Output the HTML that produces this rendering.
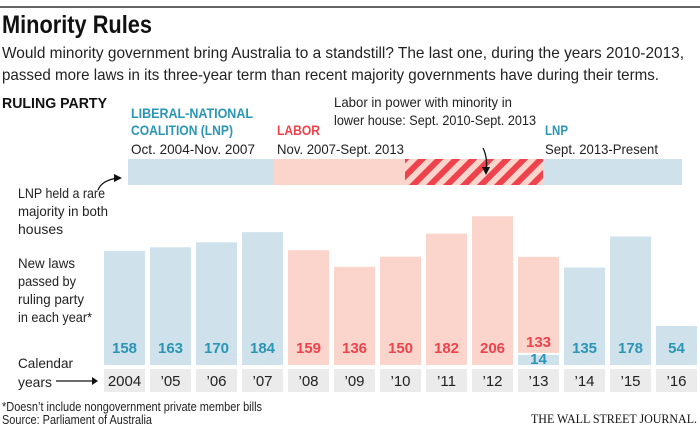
<!DOCTYPE html>
<html><head><meta charset="utf-8"><style>
body{margin:0;background:#fff;width:700px;height:429px;overflow:hidden;font-family:"Liberation Sans",sans-serif;}
svg text{font-family:"Liberation Sans",sans-serif;}
</style></head><body>
<svg width="700" height="429" viewBox="0 0 700 429">
<defs><pattern id="hatch" width="12" height="12" patternUnits="userSpaceOnUse" patternTransform="rotate(45)">
<rect width="12" height="12" fill="#fbd5cc"/><rect width="6" height="12" fill="#ee434d"/></pattern></defs>
<line x1="0" y1="7" x2="700" y2="7" stroke="#333" stroke-width="1.5"/>
<text x="2" y="33" font-size="25" font-weight="bold" fill="#111" textLength="150" lengthAdjust="spacingAndGlyphs">Minority Rules</text>
<text x="2" y="58" font-size="16" fill="#222" textLength="682" lengthAdjust="spacingAndGlyphs">Would minority government bring Australia to a standstill? The last one, during the years 2010-2013,</text>
<text x="2" y="80" font-size="16" fill="#222" textLength="657" lengthAdjust="spacingAndGlyphs">passed more laws in its three-year term than recent majority governments have during their terms.</text>
<text x="2" y="108" font-size="15" font-weight="bold" fill="#111" textLength="105" lengthAdjust="spacingAndGlyphs">RULING PARTY</text>
<g font-size="14">
<text x="131" y="118" font-weight="bold" fill="#2a95b5" textLength="122" lengthAdjust="spacingAndGlyphs">LIBERAL-NATIONAL</text>
<text x="131" y="135" font-weight="bold" fill="#2a95b5" textLength="102" lengthAdjust="spacingAndGlyphs">COALITION (LNP)</text>
<text x="131" y="154" fill="#222" textLength="124" lengthAdjust="spacingAndGlyphs">Oct. 2004-Nov. 2007</text>
<text x="277" y="135" font-weight="bold" fill="#ee434d" textLength="43" lengthAdjust="spacingAndGlyphs">LABOR</text>
<text x="277" y="154" fill="#222" textLength="127" lengthAdjust="spacingAndGlyphs">Nov. 2007-Sept. 2013</text>
<text x="334" y="107" fill="#222" textLength="178" lengthAdjust="spacingAndGlyphs">Labor in power with minority in</text>
<text x="334" y="125" fill="#222" textLength="202" lengthAdjust="spacingAndGlyphs">lower house: Sept. 2010-Sept. 2013</text>
<text x="545" y="135" font-weight="bold" fill="#2a95b5" textLength="23" lengthAdjust="spacingAndGlyphs">LNP</text>
<text x="545" y="154" fill="#222" textLength="113" lengthAdjust="spacingAndGlyphs">Sept. 2013-Present</text>
<text x="18" y="198" fill="#222" textLength="87" lengthAdjust="spacingAndGlyphs">LNP held a rare</text>
<text x="18" y="216" fill="#222" textLength="90" lengthAdjust="spacingAndGlyphs">majority in both</text>
<text x="18" y="234" fill="#222">houses</text>
<text x="18" y="268" fill="#222" textLength="57" lengthAdjust="spacingAndGlyphs">New laws</text>
<text x="18" y="286" fill="#222" textLength="58" lengthAdjust="spacingAndGlyphs">passed by</text>
<text x="18" y="304" fill="#222" textLength="66" lengthAdjust="spacingAndGlyphs">ruling party</text>
<text x="18" y="322" fill="#222" textLength="74" lengthAdjust="spacingAndGlyphs">in each year*</text>
<text x="18" y="368" fill="#222" textLength="55" lengthAdjust="spacingAndGlyphs">Calendar</text>
<text x="18" y="387" fill="#222" textLength="34" lengthAdjust="spacingAndGlyphs">years</text>
</g>
<path d="M98 190 Q 102 180 118 178" fill="none" stroke="#111" stroke-width="1.2"/>
<path d="M114 174 L122 178 L114 182 Z" fill="#111"/>
<line x1="56" y1="381" x2="96" y2="381" stroke="#111" stroke-width="1.2"/>
<path d="M92 377 L98 381 L92 385 Z" fill="#111"/>
<rect x="128" y="159" width="145" height="26" fill="#cfe2ec"/>
<rect x="273" y="159" width="132" height="26" fill="#fbd5cc"/>
<rect x="405" y="159" width="138" height="26" fill="url(#hatch)"/>
<rect x="543" y="159" width="139" height="26" fill="#cfe2ec"/>
<path d="M483 148 Q 488 158 486 172" fill="none" stroke="#111" stroke-width="1.3"/>
<path d="M482 167 L486 175 L490 167 Z" fill="#111"/>
<g id="bars"></g>
<text x="2" y="411" font-size="13" fill="#222" textLength="260" lengthAdjust="spacingAndGlyphs">*Doesn’t include nongovernment private member bills</text>
<text x="2" y="424" font-size="13" fill="#222" textLength="150" lengthAdjust="spacingAndGlyphs">Source: Parliament of Australia</text>
<text x="531" y="423" font-size="13" fill="#111" textLength="166" lengthAdjust="spacingAndGlyphs" style="font-family:'Liberation Serif',serif">THE WALL STREET JOURNAL.</text>
</svg>
<script>
const years=["2004","’05","’06","’07","’08","’09","’10","’11","’12","’13","’14","’15","’16"];
const lnpValues=[158,163,170,184,0,0,0,0,0,14,135,178,54];
const laborValues=[0,0,0,0,159,136,150,182,206,133,0,0,0];
const NS="http://www.w3.org/2000/svg";
const g=document.getElementById('bars');
const base=365,k=0.722,x0=104,pitch=46,bw=41;
const xs=i=>x0+i*pitch, hs=v=>v*k;
function mk(tag,attrs){const e=document.createElementNS(NS,tag);for(const a in attrs)e.setAttribute(a,attrs[a]);g.appendChild(e);return e;}
years.forEach((y,i)=>{
  const x=xs(i);const l=lnpValues[i],b=laborValues[i];
  if(l>0){const r=mk('rect',{x:x,y:base-hs(l),width:bw,height:hs(l),fill:'#cfe2ec'});
    
    }
  if(b>0){const yb=base-hs(l)-(l>0?2:0);const r=mk('rect',{x:x,y:yb-hs(b),width:bw,height:hs(b),fill:'#fbd5cc'});
    
    }
  if(b>0){const t=mk('text',{x:x+bw/2,y:l>0?base-hs(l)-8:353,'text-anchor':'middle','font-size':15,'font-weight':'bold',fill:'#ee434d'});t.textContent=b;
    
    }
  if(l>0){const t=mk('text',{x:x+bw/2,y:l<30?base-1:353,'text-anchor':'middle','font-size':15,'font-weight':'bold',fill:'#2a95b5'});t.textContent=l;
    
    }
  const bx=mk('rect',{x:x,y:369,width:bw,height:23,fill:'#ebebeb'});
  
  
  const t=mk('text',{x:x+bw/2,y:386,'text-anchor':'middle','font-size':15,fill:'#222'});t.textContent=y;
  
  
});
</script>
</body></html>
